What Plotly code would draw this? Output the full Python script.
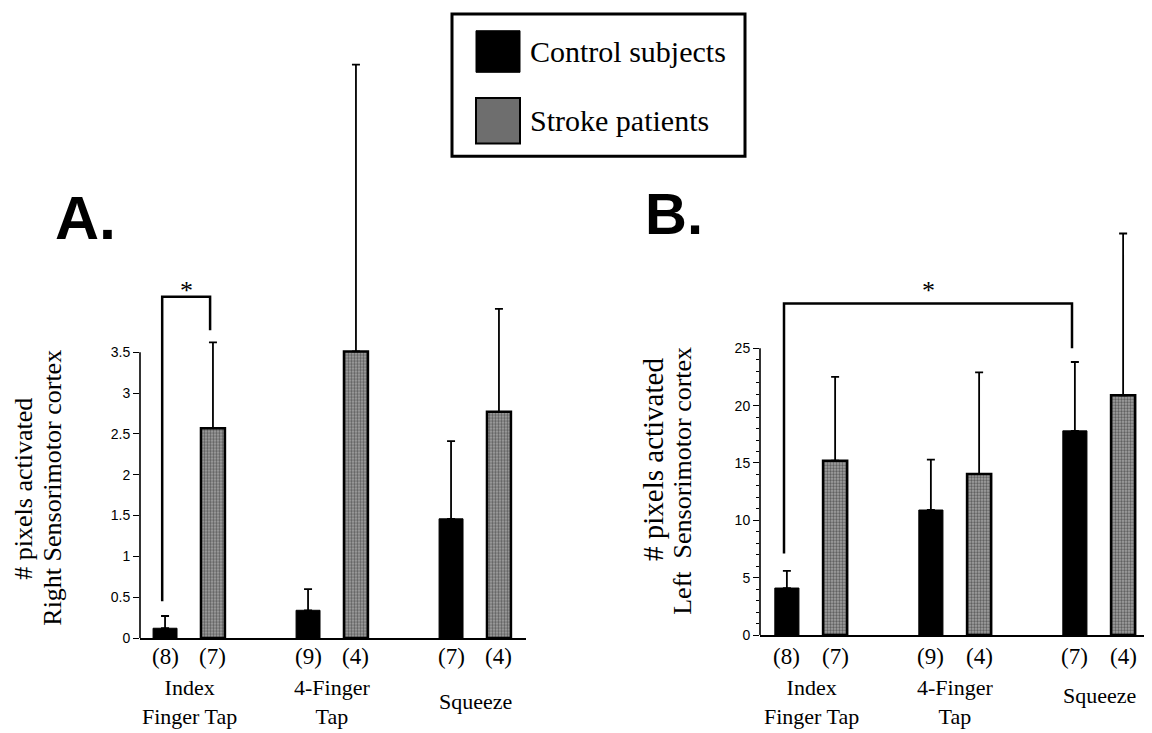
import plotly.graph_objects as go

W, H = 1152, 733

# ---------------- data ----------------
categories = ["Index Finger Tap", "4-Finger Tap", "Squeeze"]
category_labels = ["Index<br>Finger Tap", "4-Finger<br>Tap", "Squeeze"]

# Panel A: Right sensorimotor cortex
a_control = [0.12, 0.34, 1.46]
a_control_sd = [0.15, 0.26, 0.95]
a_stroke = [2.57, 3.51, 2.77]
a_stroke_sd = [1.05, 3.51, 1.26]

# Panel B: Left sensorimotor cortex
b_control = [4.1, 10.9, 17.8]
b_control_sd = [1.5, 4.4, 6.0]
b_stroke = [15.2, 14.05, 20.9]
b_stroke_sd = [7.3, 8.85, 14.1]

n_control = [8, 9, 7]
n_stroke = [7, 4, 4]

a_ticks = [0, 0.5, 1, 1.5, 2, 2.5, 3, 3.5]
a_ticktext = ["0", "0.5", "1", "1.5", "2", "2.5", "3", "3.5"]
b_ticks = [0, 5, 10, 15, 20, 25]
b_minor = list(range(0, 26))

series_names = ["Control subjects", "Stroke patients"]

# ---------------- style ----------------
SERIF = "Liberation Serif, Times New Roman, serif"
SANS = "Liberation Sans, Arial, sans-serif"
BLACK = "#000000"
STIPPLE_BG = "#a8a8a8"
STIPPLE_FG = "#111111"

def px_x(p):
    return p / W

def px_y(p):
    return 1 - p / H

BARGAP = 0.33
GROUPGAP = 0.5
slot = (1 - BARGAP) / 2  # offset of each bar centre from category centre

fig = go.Figure()

def add_bars(xa, ya, ctrl, ctrl_sd, strk, strk_sd):
    xs = list(range(len(categories)))
    fig.add_trace(go.Bar(
        x=xs, y=ctrl, name=series_names[0], xaxis=xa, yaxis=ya,
        marker=dict(color=BLACK, line=dict(color=BLACK, width=1)),
        error_y=dict(type="data", array=ctrl_sd, arrayminus=[0] * len(ctrl),
                     symmetric=False, color=BLACK, thickness=1.8, width=4),
        showlegend=False, offsetgroup="c"))
    fig.add_trace(go.Bar(
        x=xs, y=strk, name=series_names[1], xaxis=xa, yaxis=ya,
        marker=dict(color=STIPPLE_BG, line=dict(color=BLACK, width=2.5),
                    pattern=dict(shape=".", fgcolor=STIPPLE_FG, bgcolor=STIPPLE_BG,
                                 size=3, solidity=0.5)),
        error_y=dict(type="data", array=strk_sd, arrayminus=[0] * len(strk),
                     symmetric=False, color=BLACK, thickness=1.8, width=4),
        showlegend=False, offsetgroup="s"))

add_bars("x", "y", a_control, a_control_sd, a_stroke, a_stroke_sd)
add_bars("x2", "y2", b_control, b_control_sd, b_stroke, b_stroke_sd)

# axes geometry (pixels)
A_left, A_right, A_base, A_top = 132, 518, 637, 40
B_left, B_right, B_base, B_top = 752, 1145, 634, 200
A_ppu = 289 / 3.5
B_ppu = 290 / 25.0
A_xppu, B_xppu = 143.0, 144.0
A_c0, B_c0 = 181, 803

xa_range = [(A_left - A_c0) / A_xppu, (A_right - A_c0) / A_xppu]
xb_range = [(B_left - B_c0) / B_xppu, (B_right - B_c0) / B_xppu]
ya_range = [0, (A_base - A_top) / A_ppu]
yb_range = [0, (B_base - B_top) / B_ppu]

common_x = dict(showgrid=False, zeroline=False, showticklabels=False, ticks="",
                showline=True, linecolor=BLACK, linewidth=2)
common_y = dict(showgrid=False, zeroline=False, showline=False, ticks="outside",
                ticklen=6, tickwidth=1.3, tickcolor=BLACK,
                tickfont=dict(family=SANS, size=14, color=BLACK))

fig.update_layout(
    width=W, height=H,
    margin=dict(l=0, r=0, t=0, b=0),
    paper_bgcolor="white", plot_bgcolor="white",
    barmode="group", bargap=BARGAP, bargroupgap=GROUPGAP,
    showlegend=False,
    xaxis=dict(domain=[px_x(A_left), px_x(A_right)], range=xa_range, anchor="y", **common_x),
    yaxis=dict(domain=[px_y(A_base), px_y(A_top)], range=ya_range, anchor="x",
               tickmode="array", tickvals=a_ticks, ticktext=a_ticktext, **common_y),
    xaxis2=dict(domain=[px_x(B_left), px_x(B_right)], range=xb_range, anchor="y2", **common_x),
    yaxis2=dict(domain=[px_y(B_base), px_y(B_top)], range=yb_range, anchor="x2",
                tickmode="array", tickvals=b_ticks,
                minor=dict(tickmode="array", tickvals=b_minor, ticks="outside",
                           ticklen=3, tickwidth=1, tickcolor=BLACK),
                **common_y),
)

shapes = []
annotations = []

# y-axis lines only up to the last tick
shapes.append(dict(type="line", xref="x domain", yref="y", x0=0, x1=0,
                   y0=0, y1=a_ticks[-1], line=dict(color=BLACK, width=1.6)))
shapes.append(dict(type="line", xref="x2 domain", yref="y2", x0=0, x1=0,
                   y0=0, y1=b_ticks[-1], line=dict(color=BLACK, width=1.6)))

# significance brackets
def bracket(xr, yr, i0, off0, i1, off1, y_lo0, y_top, y_lo1, star_y):
    xa0 = i0 + off0 - 0.02
    xa1 = i1 + off1 - 0.02
    path = f"M {xa0},{y_lo0} L {xa0},{y_top} L {xa1},{y_top} L {xa1},{y_lo1}"
    shapes.append(dict(type="path", xref=xr, yref=yr, path=path,
                       line=dict(color=BLACK, width=2.5)))
    annotations.append(dict(xref=xr, yref=yr, x=(xa0 + xa1) / 2, y=star_y,
                            text="*", showarrow=False, yanchor="bottom",
                            font=dict(family=SERIF, size=26, color=BLACK)))

bracket("x", "y", 0, -slot / 2, 0, slot / 2, 0.45, 4.18, 3.77, 4.05)
bracket("x2", "y2", 0, -slot / 2, 2, -slot / 2, 7.1, 28.9, 25.0, 28.6)

# n labels and category labels
def cat_labels(xr, squeeze_y):
    for i, cat in enumerate(categories):
        for off, n in ((-slot / 2, n_control[i]), (slot / 2, n_stroke[i])):
            annotations.append(dict(xref=xr, yref="paper", x=i + off, y=px_y(656),
                                    text=f"({n})", showarrow=False, yanchor="middle",
                                    font=dict(family=SERIF, size=23, color=BLACK)))
        yc = squeeze_y if "<br>" not in category_labels[i] else 702
        annotations.append(dict(xref=xr, yref="paper", x=i, y=px_y(yc),
                                text=category_labels[i], showarrow=False,
                                yanchor="middle", align="center",
                                font=dict(family=SERIF, size=22, color=BLACK)))

cat_labels("x", 701)
cat_labels("x2", 695)

# y-axis titles
def ytitle(x, y, text, size):
    annotations.append(dict(xref="paper", yref="paper", x=px_x(x), y=px_y(y),
                            text=text, textangle=-90, showarrow=False,
                            xanchor="center", yanchor="middle",
                            font=dict(family=SERIF, size=size, color=BLACK)))

ytitle(16, 486, "# pixels activated", 26)
ytitle(45, 485, "Right Sensorimotor cortex", 26)
ytitle(645, 457, "# pixels activated", 29)
ytitle(675, 478, "Left  Sensorimotor cortex", 26)

# panel letters
annotations.append(dict(xref="paper", yref="paper", x=px_x(45), y=px_y(212),
                        text="<b>A.</b>", showarrow=False, xanchor="left", yanchor="middle",
                        font=dict(family=SANS, size=61, color=BLACK)))
annotations.append(dict(xref="paper", yref="paper", x=px_x(635), y=px_y(208),
                        text="<b>B.</b>", showarrow=False, xanchor="left", yanchor="middle",
                        font=dict(family=SANS, size=58, color=BLACK)))

# legend box (drawn)
shapes.append(dict(type="rect", xref="paper", yref="paper",
                   x0=px_x(444), x1=px_x(737), y0=px_y(150), y1=px_y(6),
                   line=dict(color=BLACK, width=3), fillcolor="white"))
shapes.append(dict(type="rect", xref="paper", yref="paper",
                   x0=px_x(468), x1=px_x(512), y0=px_y(65), y1=px_y(23),
                   line=dict(color=BLACK, width=1), fillcolor=BLACK))
shapes.append(dict(type="rect", xref="paper", yref="paper",
                   x0=px_x(468), x1=px_x(512), y0=px_y(137), y1=px_y(91),
                   line=dict(color=BLACK, width=2), fillcolor="#6e6e6e"))
for name, yc in ((series_names[0], 44), (series_names[1], 114)):
    annotations.append(dict(xref="paper", yref="paper", x=px_x(520), y=px_y(yc),
                            text=name, showarrow=False, xanchor="left", yanchor="middle",
                            font=dict(family=SERIF, size=30, color=BLACK)))

fig.update_layout(shapes=shapes, annotations=annotations)
fig.write_html("out.html")
